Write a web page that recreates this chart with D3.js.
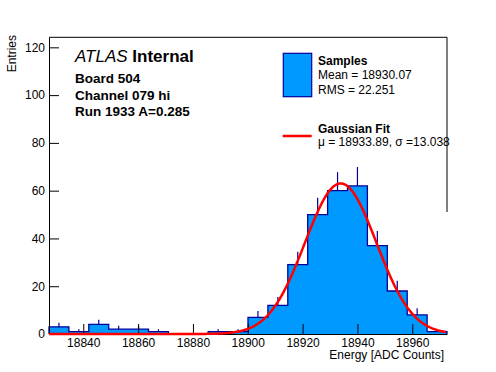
<!DOCTYPE html>
<html>
<head>
<meta charset="utf-8">
<script src="https://cdn.jsdelivr.net/npm/d3@7"></script>
<style>
  body { margin: 0; background: #fff; }
  svg { display: block; }
  text { font-family: "Liberation Sans", Arial, Helvetica, sans-serif; fill: #000; }
</style>
</head>
<body>
<svg id="chart" width="496" height="372"></svg>
<script>
// energy range shown on the x axis, split into 20 equal bins
var xRange = [18827.5, 18972.66];
var binCounts = [3, 1, 4, 2, 2, 1, 0, 0, 1, 1, 7, 12, 29, 50, 60, 62, 37, 18, 8, 1];
var xTicks = [18840, 18860, 18880, 18900, 18920, 18940, 18960];
var yTicks = [0, 20, 40, 60, 80, 100, 120];
var yMax = 124.2;

// gaussian fit parameters (as in the legend)
var fitAmp = 63;
var fitMu = 18933.89;
var fitSigma = 13.038;

var headerLines = ["Board 504", "Channel 079 hi", "Run 1933 A=0.285"];
var sampleLines = ["Samples", "Mean = 18930.07", "RMS = 22.251"];
var fitLines = ["Gaussian Fit", "\u03bc = 18933.89, \u03c3 =13.038"];

var fillBlue = "#0099ff",
    navy = "#000099";

var svg = d3.select("#chart");

var x = d3.scaleLinear().domain(xRange).range([49, 447]),
    y = d3.scaleLinear().domain([0, yMax]).range([334, 37.3]);

var nBins = binCounts.length,
    binWidth = (xRange[1] - xRange[0]) / nBins;

var bins = binCounts.map(function (c, i) {
    var lo = xRange[0] + i * binWidth;
    return {lo: lo, hi: lo + binWidth, mid: lo + binWidth / 2, count: c};
});

// error bars first, the fill hides the lower half
svg.append("g").selectAll("line")
    .data(bins.filter(function (d) { return d.count > 0; }))
    .join("line")
    .attr("x1", function (d) { return x(d.mid); })
    .attr("x2", function (d) { return x(d.mid); })
    .attr("y1", function (d) { return y(d.count - Math.sqrt(d.count)); })
    .attr("y2", function (d) { return y(d.count + Math.sqrt(d.count)); })
    .attr("stroke", navy)
    .attr("stroke-width", 1.2);

// step outline of the histogram
var pts = [[x(xRange[0]), y(0)]];
bins.forEach(function (d) {
    pts.push([x(d.lo), y(d.count)]);
    pts.push([x(d.hi), y(d.count)]);
});
pts.push([x(xRange[1]), y(0)]);

svg.append("path")
    .attr("d", d3.line()(pts))
    .attr("fill", fillBlue)
    .attr("stroke", navy)
    .attr("stroke-width", 1.3);

// axes
var xAxis = svg.append("g").attr("transform", "translate(0,334)");
xAxis.call(d3.axisBottom(x).tickValues(d3.range(18830, 18971, 5)).tickSize(-5).tickSizeOuter(0).tickFormat(""));
xAxis.call(d3.axisBottom(x).tickValues(xTicks).tickSize(-10).tickSizeOuter(0).tickPadding(4).tickFormat(d3.format("d")));

var yAxis = svg.append("g").attr("transform", "translate(49,0)");
yAxis.call(d3.axisLeft(y).tickValues(d3.range(0, 121, 4)).tickSize(-5).tickSizeOuter(0).tickFormat(""));
yAxis.call(d3.axisLeft(y).tickValues(yTicks).tickSize(-10).tickSizeOuter(0).tickPadding(4).tickFormat(d3.format("d")));

svg.selectAll(".tick text").attr("font-size", 12).attr("font-family", null);
svg.selectAll(".tick line").attr("stroke", "#000");
svg.selectAll(".domain").attr("stroke", "#000");

// frame: top edge and the visible part of the right edge
svg.append("path")
    .attr("d", "M49,37.3H447V212")
    .attr("fill", "none")
    .attr("stroke", "#000");

// fit curve
var fitX = d3.range(xRange[0], xRange[1] + 0.01, 0.4);
var gauss = function (v) {
    return fitAmp * Math.exp(-0.5 * Math.pow((v - fitMu) / fitSigma, 2));
};
svg.append("path")
    .attr("d", d3.line().x(function (d) { return x(d); }).y(function (d) { return y(gauss(d)); })(fitX))
    .attr("fill", "none")
    .attr("stroke", "#ff0000")
    .attr("stroke-width", 2.5);

// axis titles
svg.append("text")
    .attr("transform", "translate(16,35) rotate(-90)")
    .attr("text-anchor", "end")
    .attr("font-size", 12)
    .text("Entries");
svg.append("text")
    .attr("x", 444)
    .attr("y", 359)
    .attr("text-anchor", "end")
    .attr("font-size", 12)
    .text("Energy [ADC Counts]");

// ATLAS label block
var atlas = svg.append("text").attr("x", 75).attr("y", 62).attr("font-size", 17);
atlas.append("tspan").attr("font-style", "italic").text("ATLAS");
atlas.append("tspan").attr("font-weight", "bold").text(" Internal");

svg.append("g").selectAll("text")
    .data(headerLines)
    .join("text")
    .attr("x", 75)
    .attr("y", function (d, i) { return 83 + i * 16.5; })
    .attr("font-size", 13.5)
    .attr("font-weight", "bold")
    .text(function (d) { return d; });

// legend
svg.append("rect")
    .attr("x", 283.3).attr("y", 53.3)
    .attr("width", 28.4).attr("height", 43.4)
    .attr("fill", fillBlue)
    .attr("stroke", navy)
    .attr("stroke-width", 1.2);

svg.append("g").selectAll("text")
    .data(sampleLines)
    .join("text")
    .attr("x", 318)
    .attr("y", function (d, i) { return [64.5, 79, 94][i]; })
    .attr("font-size", 12)
    .attr("font-weight", function (d, i) { return i == 0 ? "bold" : null; })
    .text(function (d) { return d; });

svg.append("line")
    .attr("x1", 282.7).attr("x2", 311.7)
    .attr("y1", 136).attr("y2", 136)
    .attr("stroke", "#ff0000")
    .attr("stroke-width", 2.5);

svg.append("g").selectAll("text")
    .data(fitLines)
    .join("text")
    .attr("x", 318)
    .attr("y", function (d, i) { return [133, 146][i]; })
    .attr("font-size", 12)
    .attr("font-weight", function (d, i) { return i == 0 ? "bold" : null; })
    .text(function (d) { return d; });
</script>
</body>
</html>
